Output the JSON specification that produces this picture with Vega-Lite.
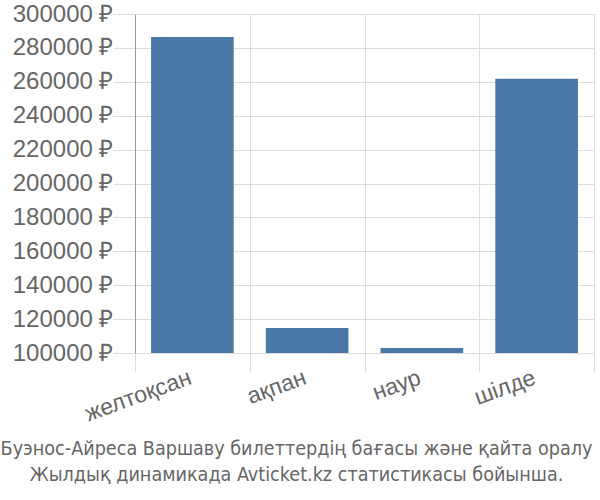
{
  "$schema": "https://vega.github.io/schema/vega-lite/v6.json",
  "autosize": {"type": "none"},
  "width": 459,
  "height": 339,
  "padding": {"left": 135, "top": 14, "right": 6, "bottom": 147},
  "data": {"values": [
    {"month": "желтоқсан", "price": 286500},
    {"month": "ақпан", "price": 114700},
    {"month": "наур", "price": 103000},
    {"month": "шілде", "price": 261800}
  ]},
  "title": {
    "text": ["Буэнос-Айреса Варшаву билеттердің бағасы және қайта оралу", "Жылдық динамикада Avticket.kz статистикасы бойынша."],
    "orient": "bottom",
    "anchor": "middle",
    "font": "DejaVu Sans Condensed, Liberation Sans",
    "fontSize": 19.6,
    "fontWeight": "normal",
    "color": "#666",
    "lineHeight": 26,
    "offset": 14,
    "dx": -68
  },
  "mark": {"type": "bar", "color": "#4c78a8", "width": {"band": 0.72}},
  "encoding": {
    "x": {
      "field": "month", "type": "nominal", "sort": null,
      "scale": {"paddingInner": 0, "paddingOuter": 0},
      "axis": {
        "title": null, "domain": false, "grid": true, "gridColor": "#ddd",
        "bandPosition": 0, "tickBand": "extent", "ticks": true, "tickSize": 19, "tickColor": "#ddd",
        "labelAngle": -20, "labelAlign": "right", "labelBaseline": "alphabetic",
        "labelFont": "Liberation Sans", "labelFontSize": 23, "labelColor": "#666",
        "labelPadding": 11
      }
    },
    "y": {
      "field": "price", "type": "quantitative",
      "scale": {"domain": [100000, 300000], "zero": false, "nice": false},
      "axis": {
        "title": null, "values": [100000, 120000, 140000, 160000, 180000, 200000, 220000, 240000, 260000, 280000, 300000],
        "labelExpr": "datum.value + ' ₽'",
        "grid": true, "gridColor": "#ddd",
        "tickSize": 22, "tickColor": "#ddd",
        "domain": true, "domainColor": "#999",
        "labelFont": "Liberation Sans", "labelFontSize": 24, "labelColor": "#666", "labelPadding": 0
      }
    },
    "y2": {"datum": 100000}
  },
  "config": {"view": {"stroke": "#ddd"}}
}
